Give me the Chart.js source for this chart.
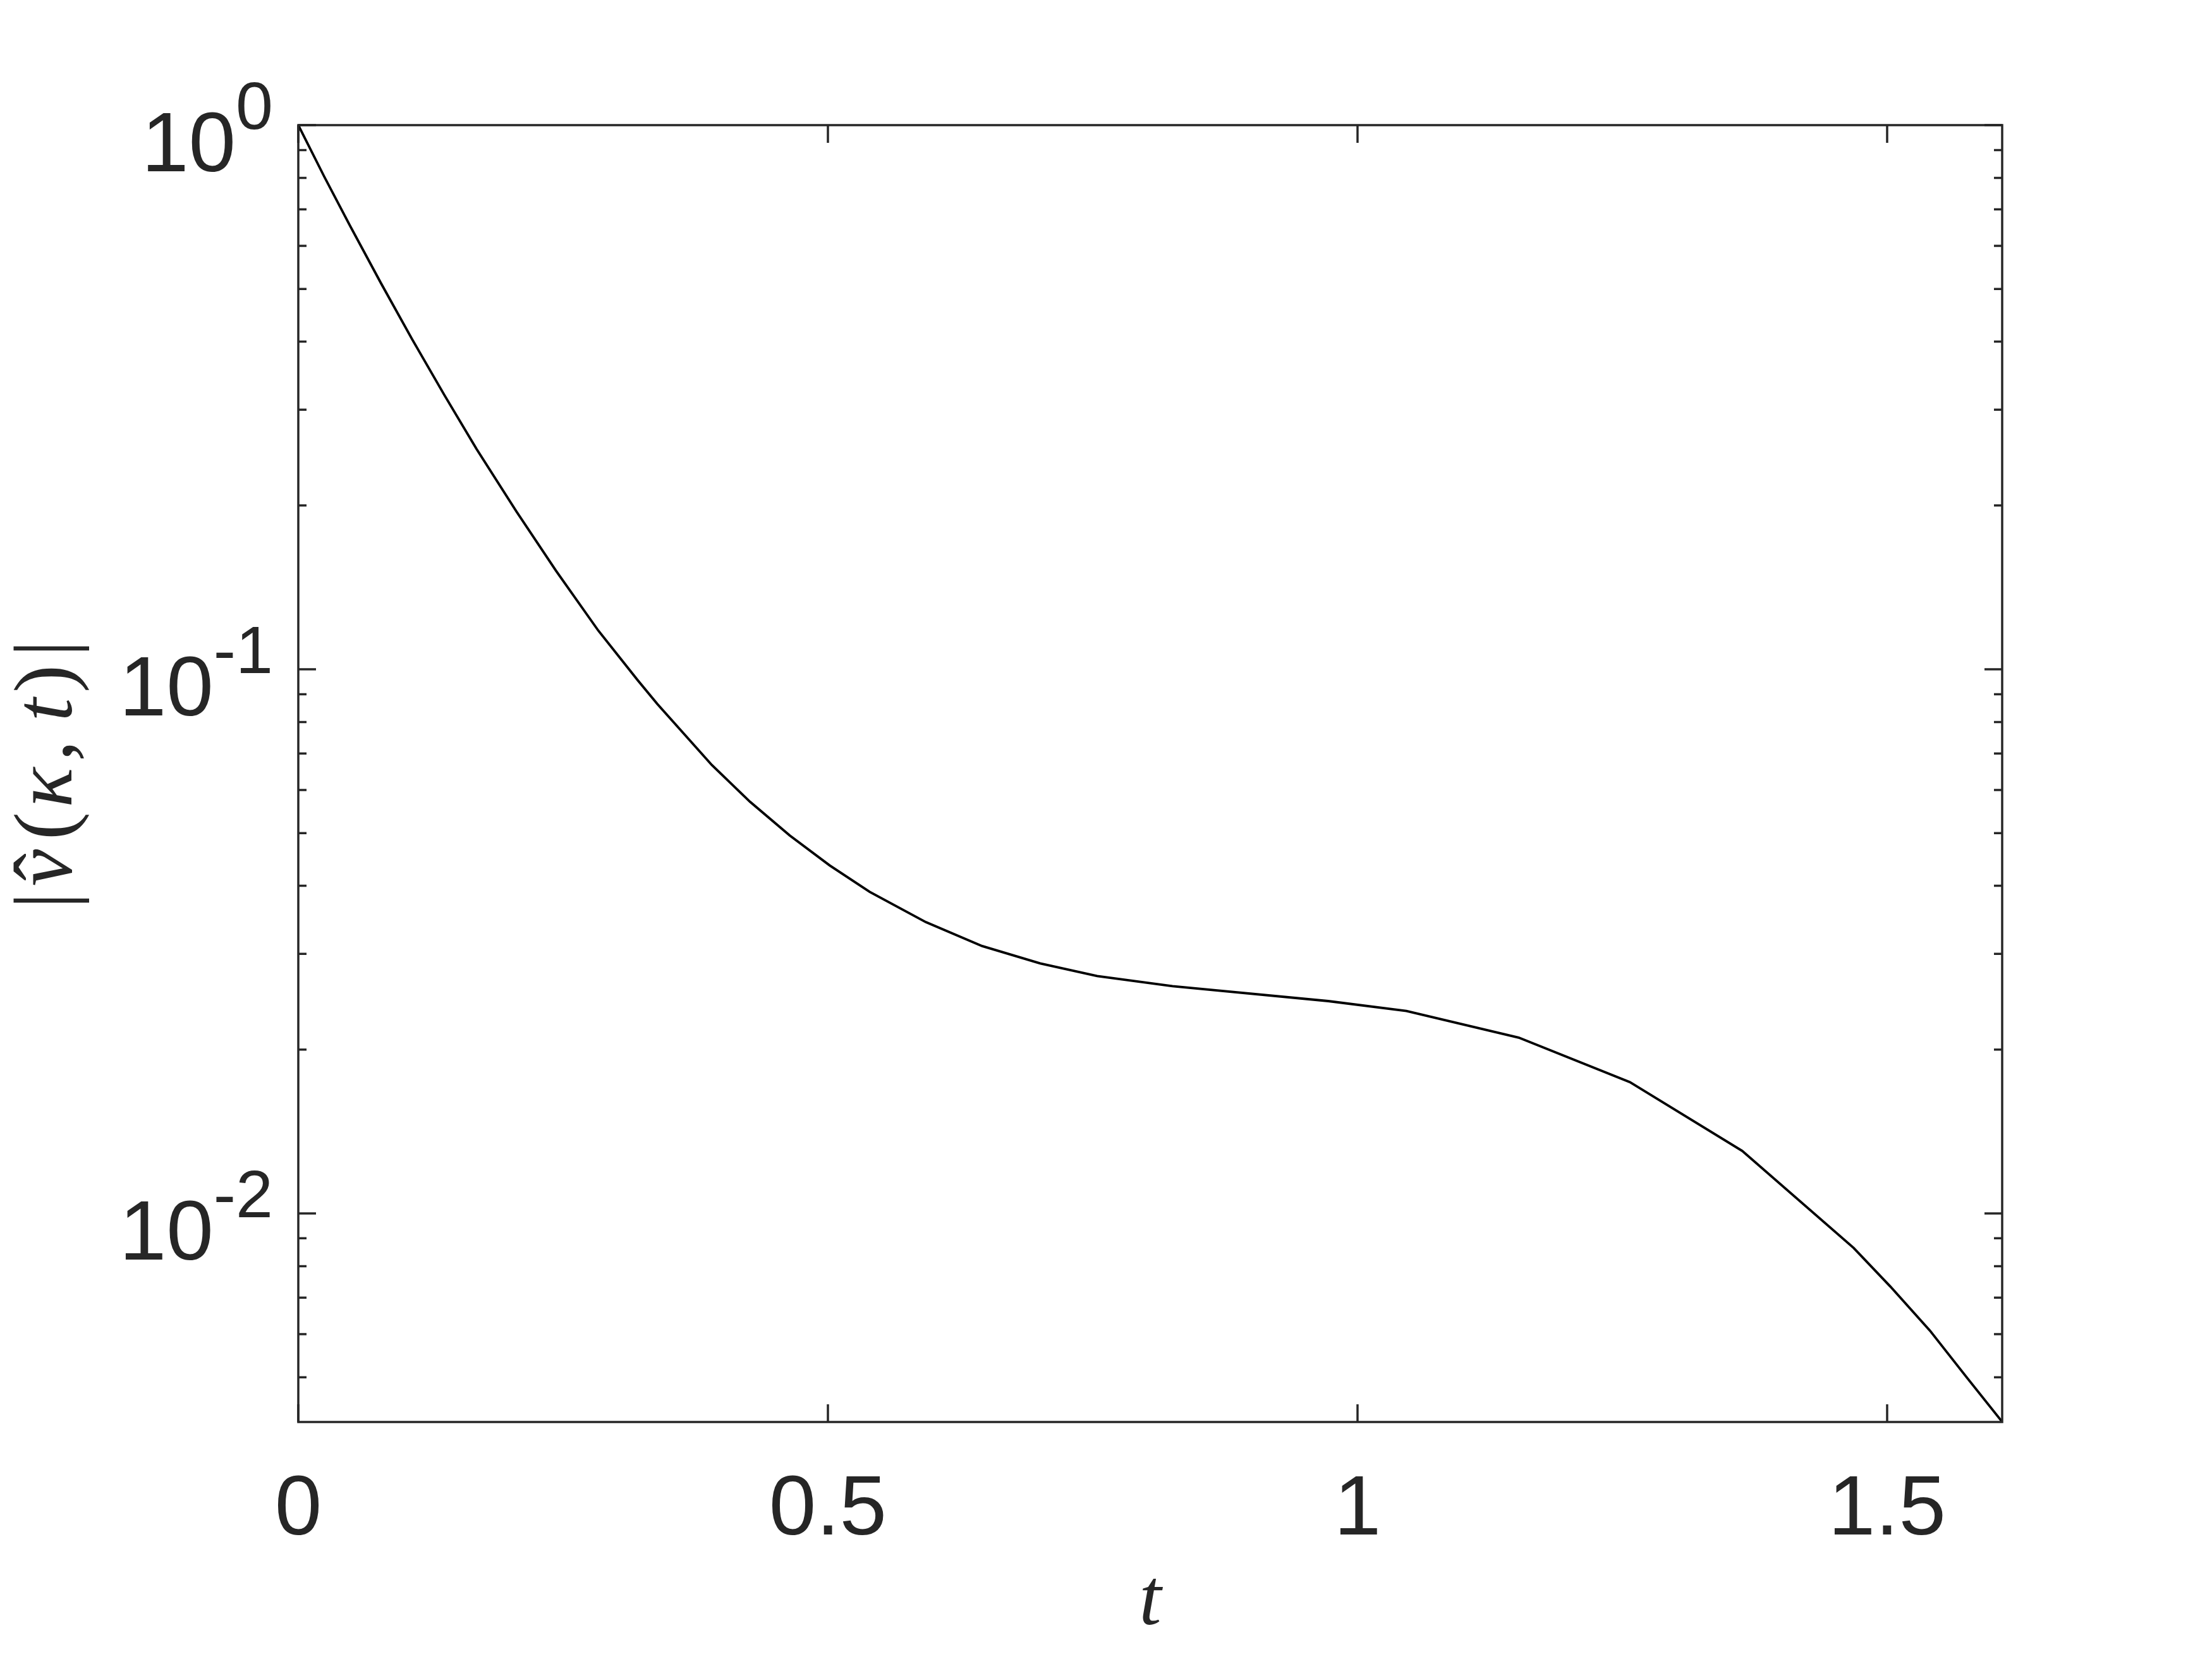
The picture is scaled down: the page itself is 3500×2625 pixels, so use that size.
<!DOCTYPE html>
<html>
<head>
<meta charset="utf-8">
<script src="https://cdn.jsdelivr.net/npm/chart.js@4.4.1/dist/chart.umd.min.js"></script>
<style>
html,body{margin:0;padding:0;background:#ffffff;}
#wrap{width:3500px;height:2625px;position:relative;}
</style>
</head>
<body>
<div id="wrap"><canvas id="c" width="3500" height="2625"></canvas></div>
<script>
// ---- data ----
const tValues = [0, 0.0245, 0.0488, 0.0781, 0.1074, 0.138, 0.1683, 0.2059, 0.2432, 0.2832, 0.3204,
  0.339, 0.3904, 0.4264, 0.464, 0.5017, 0.5394, 0.5925, 0.6456, 0.7004, 0.7542, 0.8253,
  0.9724, 1.0461, 1.1522, 1.2571, 1.3632, 1.4684, 1.503, 1.5404, 1.575, 1.6086];
const ampValues = [1.0, 0.8042, 0.6536, 0.5121, 0.4043, 0.3189, 0.2539, 0.1950, 0.1518, 0.1178, 0.0955,
  0.0863, 0.0667, 0.0571, 0.0495, 0.0436, 0.0390, 0.0343, 0.0310, 0.0288, 0.0273, 0.02616,
  0.02456, 0.02355, 0.02104, 0.01743, 0.01303, 0.00864, 0.00734, 0.00609, 0.00500, 0.00414];
const xTickValues = [0, 0.5, 1, 1.5];
const xTickLabels = ['0', '0.5', '1', '1.5'];
const yTickValues = [1, 0.1, 0.01];
const yTickBases = ['10', '10', '10'];
const yTickExponents = ['0', '-1', '-2'];
const xRange = [0, 1.6086];
const yRange = [0.004137, 1];
const xTitle = 't';

const INK = '#262626';

const framePlugin = {
  id: 'frame',
  afterDraw(chart) {
    const ctx = chart.ctx;
    const a = chart.chartArea;
    const xs = chart.scales.x, ys = chart.scales.y;
    ctx.save();
    ctx.strokeStyle = INK;
    ctx.lineWidth = 3.5;
    ctx.lineCap = 'butt';
    // box
    ctx.strokeRect(a.left, a.top, a.right - a.left, a.bottom - a.top);
    const MAJ = 28, MIN = 13;
    ctx.beginPath();
    // x ticks (bottom and top, inward)
    xTickValues.forEach(v => {
      const px = xs.getPixelForValue(v);
      ctx.moveTo(px, a.bottom); ctx.lineTo(px, a.bottom - MAJ);
      ctx.moveTo(px, a.top); ctx.lineTo(px, a.top + MAJ);
    });
    // y major ticks
    yTickValues.forEach(v => {
      const py = ys.getPixelForValue(v);
      ctx.moveTo(a.left, py); ctx.lineTo(a.left + MAJ, py);
      ctx.moveTo(a.right, py); ctx.lineTo(a.right - MAJ, py);
    });
    // y minor ticks
    for (let d = -3; d <= 0; d++) {
      for (let m = 2; m <= 9; m++) {
        const v = m * Math.pow(10, d);
        if (v < yRange[0] || v > yRange[1]) continue;
        const py = ys.getPixelForValue(v);
        ctx.moveTo(a.left, py); ctx.lineTo(a.left + MIN, py);
        ctx.moveTo(a.right, py); ctx.lineTo(a.right - MIN, py);
      }
    }
    ctx.stroke();

    // x tick labels
    ctx.fillStyle = INK;
    ctx.font = '134px "Liberation Sans", Arial, sans-serif';
    ctx.textAlign = 'center';
    ctx.textBaseline = 'alphabetic';
    xTickValues.forEach((v, i) => {
      ctx.fillText(xTickLabels[i], xs.getPixelForValue(v), a.bottom + 178);
    });

    // y tick labels with superscripts (right aligned)
    const rightEdge = a.left - 40;
    yTickValues.forEach((v, i) => {
      const py = ys.getPixelForValue(v);
      ctx.textAlign = 'left';
      ctx.font = '106px "Liberation Sans", Arial, sans-serif';
      const ew = ctx.measureText(yTickExponents[i]).width;
      ctx.font = '134px "Liberation Sans", Arial, sans-serif';
      const bw = ctx.measureText(yTickBases[i]).width;
      const x0 = rightEdge - ew - bw;
      ctx.fillText(yTickBases[i], x0, py + 73);
      ctx.font = '106px "Liberation Sans", Arial, sans-serif';
      ctx.fillText(yTickExponents[i], x0 + bw, py + 6);
    });

    // x title
    ctx.font = 'italic 126px "Liberation Serif", "DejaVu Serif", serif';
    ctx.textAlign = 'center';
    ctx.fillText(xTitle, (a.left + a.right) / 2, 2570);

    // y title |v̂(κ, t)| drawn rotated, piece by piece
    const pieces = [
      { s: '|', y: 1425, font: '132px "Liberation Serif", serif' },
      { s: 'v', y: 1373, font: 'italic 132px "Liberation Serif", serif' },
      { s: '\u02C6', y: 1372, font: '132px "Liberation Serif", serif' },
      { s: '(', y: 1307, font: '132px "Liberation Serif", serif' },
      { s: '\u03BA', y: 1246, font: 'italic 132px "Liberation Serif", serif' },
      { s: ',', y: 1188, font: 'italic 132px "Liberation Serif", serif' },
      { s: 't', y: 1123, font: 'italic 132px "Liberation Serif", serif' },
      { s: ')', y: 1074, font: '132px "Liberation Serif", serif' },
      { s: '|', y: 1026, font: '132px "Liberation Serif", serif' }
    ];
    pieces.forEach(p => {
      ctx.save();
      ctx.translate(113, p.y);
      ctx.rotate(-Math.PI / 2);
      ctx.font = p.font;
      ctx.textAlign = 'center';
      ctx.textBaseline = 'alphabetic';
      ctx.fillText(p.s, 0, 0);
      ctx.restore();
    });
    ctx.restore();
  }
};

const points = tValues.map((t, i) => ({ x: t, y: ampValues[i] }));

new Chart(document.getElementById('c'), {
  type: 'scatter',
  data: {
    datasets: [{
      data: points,
      showLine: true,
      borderColor: '#000000',
      borderWidth: 3.8,
      pointRadius: 0,
      tension: 0,
      fill: false
    }]
  },
  options: {
    responsive: false,
    devicePixelRatio: 1,
    animation: false,
    layout: { padding: { left: 472, top: 198, right: 332, bottom: 375 } },
    plugins: { legend: { display: false }, tooltip: { enabled: false } },
    scales: {
      x: { type: 'linear', min: xRange[0], max: xRange[1], display: false },
      y: { type: 'logarithmic', min: yRange[0], max: yRange[1], display: false }
    }
  },
  plugins: [framePlugin]
});
</script>
</body>
</html>
